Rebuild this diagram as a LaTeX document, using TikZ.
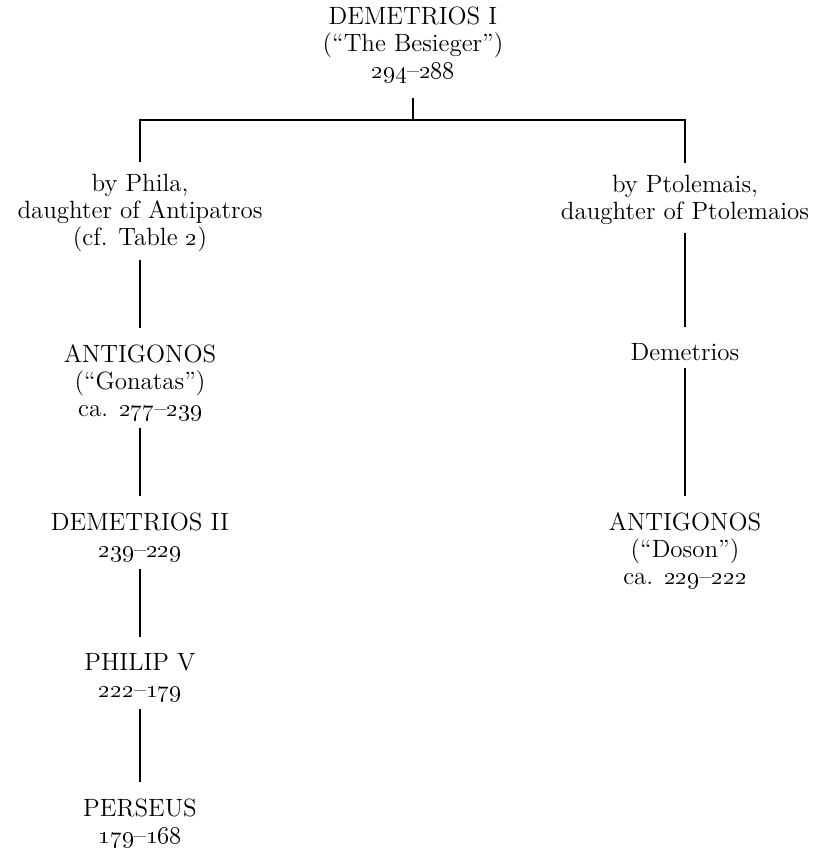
\documentclass[tikz,border=0pt]{standalone}
\usepackage{tikz}
\newcommand\osn[1]{\oldstylenums{#1}}
\begin{document}
\begin{tikzpicture}[x=0.5pt,y=-0.5pt,
    king/.style={align=center, inner sep=0pt, anchor=base,
      font=\fontsize{12.5}{13.5}\selectfont},
    line/.style={line width=0.6pt, shorten <=3.5pt, shorten >=8pt}]
    \useasboundingbox (0,0) rectangle (822,849);
    % Demetrios I and the two wives
    \node[king] (besieger) at (413,79) {DEMETRIOS I\\(“The Besieger”)\\\osn{294}–\osn{288}};
    \node[king] (phila) at (140,246) {by Phila,\\daughter of Antipatros\\(cf. Table \osn{2})};
    \node[king] (ptolemais) at (685,220) {by Ptolemais,\\daughter of Ptolemaios};
    \coordinate (bar) at (413,120);
    \draw[line width=0.6pt, shorten <=7pt] (besieger.south) -- (bar);
    \draw[line width=0.6pt, shorten <=6pt, shorten >=6pt] (phila.north) |- (bar) -| (ptolemais.north);
    % left line
    \node[king] (gonatas) at (140,416) {ANTIGONOS\\(“Gonatas”)\\ca. \osn{277}–\osn{239}};
    \node[king] (demetrios2) at (140,557) {DEMETRIOS II\\\osn{239}–\osn{229}};
    \node[king] (philip) at (140,697) {PHILIP V\\\osn{222}–\osn{179}};
    \node[king] (perseus) at (140,843) {PERSEUS\\\osn{179}–\osn{168}};
    \draw[line] (phila.south) -- (gonatas.north);
    \draw[line] (gonatas.south) -- (demetrios2.north);
    \draw[line] (demetrios2.south) -- (philip.north);
    \draw[line] (philip.south) -- (perseus.north);
    % right line
    \node[king] (demetrios) at (685,360) {Demetrios};
    \node[king] (doson) at (685,584) {ANTIGONOS\\(“Doson”)\\ca. \osn{229}–\osn{222}};
    \draw[line] (ptolemais.south) -- (demetrios.north);
    \draw[line] (demetrios.south) -- (doson.north);
\end{tikzpicture}
\end{document}
